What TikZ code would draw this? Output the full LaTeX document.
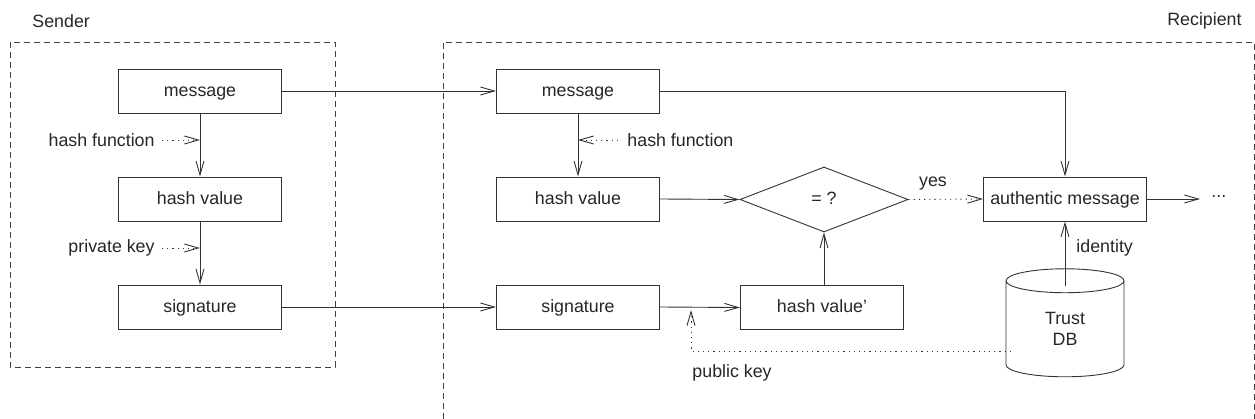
\documentclass[tikz,border=0pt]{standalone}
\usepackage{fontspec}
\setmainfont{Liberation Sans}
\usetikzlibrary{arrows.meta,shapes.geometric}
\begin{document}
\begin{tikzpicture}[x=1pt,y=-1pt,
  every node/.style={font=\fontsize{17.8}{21}\selectfont, text=black!85},
  line width=0.9pt, draw=black!80,
  box/.style={draw=black!80, rectangle, minimum width=163pt, minimum height=44pt, inner sep=0pt, text height=12.5pt, text depth=1.5pt},
  lbl/.style={inner sep=0pt},
  arr/.style={-{Straight Barb[length=14pt,width=8pt,line width=0.9pt]}},
  dotarr/.style={arr, dash pattern=on 1.2pt off 4pt},
  region/.style={draw=black!75, dash pattern=on 6pt off 4pt, line width=0.9pt}
]
\useasboundingbox (0,0) rectangle (1255,419);
% regions
\draw[region] (10,42) rectangle (335,367);
\draw[region] (443,419) -- (443,42) -- (1254,42) -- (1254,419);
\node[lbl, anchor=west] (sender) at (32,21) {Sender};
\node[lbl, anchor=east] (recipient) at (1242,21) {Recipient};
% sender
\node[box] (smsg) at (200,91) {message};
\node[box] (shash) at (200,199) {hash value};
\node[box] (ssig) at (200,307) {signature};
\draw[arr] (smsg) -- (shash);
\draw[arr] (shash) -- (ssig);
\node[lbl, anchor=east] (shf) at (155,140) {hash function};
\coordinate (shfp) at (200,140);
\draw[dotarr, shorten <=7pt] (shf.east) -- (shfp);
\node[lbl, anchor=east] (spk) at (155,248) {private key};
\coordinate (spkp) at (200,248);
\draw[dotarr, shorten <=7pt] (spk.east) -- (spkp);
% recipient
\node[box] (rmsg) at (578,91) {message};
\node[box] (rhash) at (578,199) {hash value};
\node[box] (rsig) at (578,307) {signature};
\node[box] (hvp) at (822,307.5) {hash value'};
\node[draw=black!80, diamond, minimum width=168pt, minimum height=65pt, inner sep=0pt, shape aspect=2.6, text height=12.5pt, text depth=1.5pt] (eq) at (824,199.5) {= ?};
\node[box] (auth) at (1065,199) {authentic message};
\node[draw=black!80, cylinder, shape border rotate=90, aspect=0.6, minimum width=118pt, minimum height=108pt, inner sep=0pt, align=center] (db) at (1065,329) {Trust\\DB};
\node[lbl, anchor=west] (dots) at (1211,197) {...};

\draw[arr] (smsg.east) -- (rmsg.west);
\draw[arr] (ssig.east) -- (rsig.west);
\draw[arr] (rmsg) -- (rhash);
\node[lbl, anchor=west] (rhf) at (627,140) {hash function};
\coordinate (rhfp) at (578,140);
\draw[dotarr, shorten <=9pt] (rhf.west) -- (rhfp);
\draw[arr] (rhash.east) -- (eq.west);
\draw[arr] (rsig.east) -- (hvp.west);
\draw[arr] (hvp.north -| eq.south) -- (eq.south);
\draw[dotarr] (eq.east) -- (auth.west);
\node[lbl] (yes) at (933,184) {yes};
\draw[arr] (rmsg.east) -| (auth.north);
\draw[arr, shorten >=11pt] (auth.east) -- (dots.west |- auth.east);
\coordinate (dbtop) at (1065,286);
\draw[arr] (dbtop) -- (auth.south);
\node[lbl, anchor=west] (ident) at (1076,248) {identity};
\coordinate (pksrc) at (1011,351);
\coordinate (pkdst) at (691,310);
\draw[dotarr] (pksrc) -| (pkdst);
\node[lbl, anchor=west] (pk) at (692,373) {public key};
\end{tikzpicture}
\end{document}
